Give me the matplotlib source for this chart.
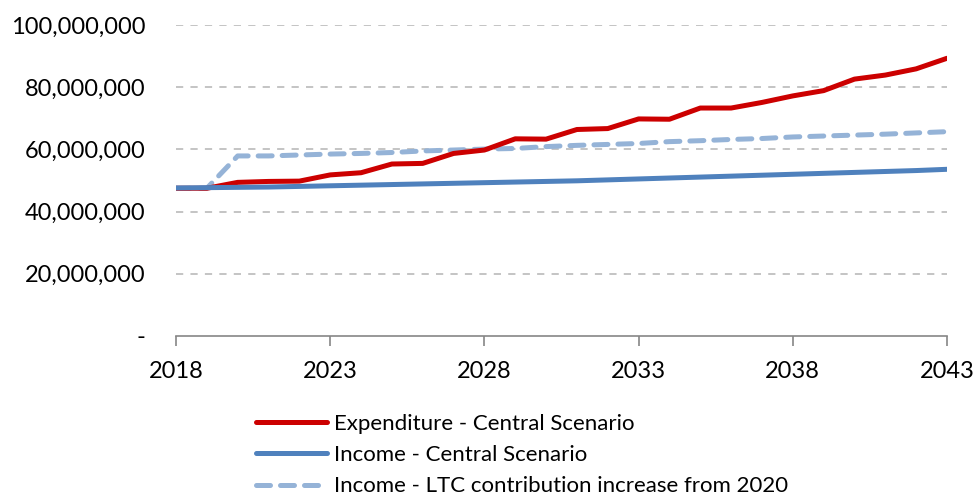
import matplotlib.pyplot as plt
import matplotlib.ticker as mticker

years = list(range(2018, 2044))

# Expenditure - central scenario
expenditure = [47.5, 47.5, 49.4, 49.7, 49.8, 51.8, 52.5, 55.3, 55.5, 58.7,
               59.8, 63.4, 63.3, 66.4, 66.7, 69.8, 69.7, 73.3, 73.3, 75.1,
               77.2, 78.9, 82.6, 83.9, 85.9, 89.3]

# Income - central scenario
income = [47.6, 47.7, 47.8, 47.9, 48.1, 48.3, 48.5, 48.7, 48.9, 49.1,
          49.3, 49.5, 49.7, 49.9, 50.2, 50.5, 50.8, 51.1, 51.4, 51.7,
          52.0, 52.3, 52.6, 52.9, 53.2, 53.6]

# Income - LTC contribution increase from 2020
income_ltc = [47.5, 47.5, 57.9, 57.9, 58.2, 58.5, 58.7, 59.0, 59.5, 59.8,
              60.1, 60.3, 60.9, 61.3, 61.6, 61.9, 62.5, 62.8, 63.2, 63.5,
              64.0, 64.3, 64.6, 64.9, 65.3, 65.7]

scale = 1e6
plt.rcParams['font.family'] = ['Lato', 'DejaVu Sans']

fig = plt.figure(figsize=(9.76, 4.97), dpi=100)
ax = fig.add_axes([176/976, 1-336/497, (947-176)/976, (336-25)/497])

ax.plot(years, [v*scale for v in expenditure], color='#CC0000', lw=3.6,
        label='Expenditure - Central Scenario', solid_capstyle='round', zorder=3)
ax.plot(years, [v*scale for v in income], color='#4F81BD', lw=3.6,
        label='Income - Central Scenario', solid_capstyle='round', zorder=3)
ax.plot(years, [v*scale for v in income_ltc], color='#95B3D7', lw=3.6,
        dashes=(2.8, 2.0), dash_capstyle='round',
        label='Income - LTC contribution increase from 2020', zorder=2)

ax.set_xlim(2018, 2043)
ax.set_ylim(0, 100e6)
ax.set_xticks(range(2018, 2044, 5))
ax.set_yticks(range(0, 100000001, 20000000))

def fmt(v, pos):
    if v == 0:
        return '-'
    return '{:,.0f}'.format(v)

ax.yaxis.set_major_formatter(mticker.FuncFormatter(fmt))
ax.tick_params(axis='y', length=0, pad=22, labelsize=17)
ax.tick_params(axis='x', length=7, width=1.2, color='#868686', direction='out',
               pad=11, labelsize=17)

for y in range(20000000, 100000001, 20000000):
    ax.axhline(y, color='#BFBFBF', lw=1.3, dashes=(4, 4), zorder=1)

for s in ['top', 'right', 'left']:
    ax.spines[s].set_visible(False)
ax.spines['bottom'].set_color('#868686')
ax.spines['bottom'].set_linewidth(1.2)

fig.legend(loc='upper left', bbox_to_anchor=(245/976, 1-403/497), frameon=False,
           fontsize=16, handlelength=3.2, handletextpad=0.3, labelspacing=0.5,
           borderpad=0)

fig.savefig('out.png', dpi=100)
